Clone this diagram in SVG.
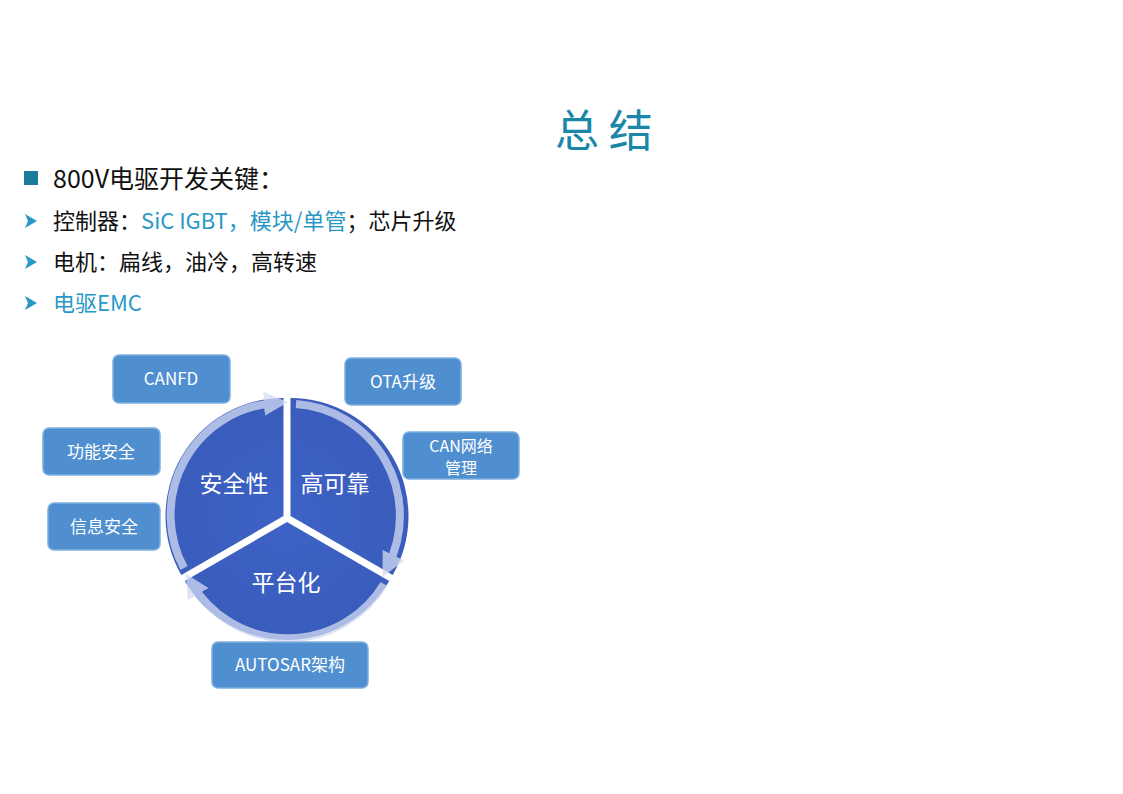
<svg xmlns="http://www.w3.org/2000/svg" width="1123" height="794" viewBox="0 0 1123 794">
<style>
text{font-family:"Noto Sans CJK SC","Noto Sans",sans-serif}
.t{font-size:22px;fill:#111}
.b{fill:#2a98c6}
.box rect{fill:#4f8fd0;stroke:#7fb0e0;stroke-width:1.5}
.box text{fill:#fff;font-size:17px;text-anchor:middle}
.sec{fill:url(#g)}
.rim{fill:none;stroke:#d4dcf2;stroke-width:8;opacity:.75}
.lbl{fill:#fff;font-size:23px;text-anchor:middle}
</style>
<defs>
<radialGradient id="g" cx="287" cy="518" r="120" gradientUnits="userSpaceOnUse">
<stop offset="0" stop-color="#3d63c6"/><stop offset="1" stop-color="#3a5cbc"/>
</radialGradient>
<marker id="ah" viewBox="0 0 10 10" refX="5" refY="5" markerWidth="3" markerHeight="3" orient="auto"><path d="M0,0L10,5L0,10z" fill="#d4dcf2"/></marker>
</defs>
<rect width="1123" height="794" fill="#fff"/>
<g id="header">
<text x="555" y="147" font-size="44" fill="#1a86a8">总 结</text>
<rect x="24" y="171" width="14" height="14" fill="#1a7c9a"/>
<text x="53" y="188" font-size="25" fill="#111">800V电驱开发关键：</text>
<path d="M25,214 L37,221 L25,228 L28,221z" fill="#2a98c6"/>
<text class="t" x="53" y="229">控制器：<tspan class="b">SiC IGBT，模块/单管</tspan>；芯片升级</text>
<path d="M25,255 L37,262 L25,269 L28,262z" fill="#2a98c6"/>
<text class="t" x="53" y="270">电机：扁线，油冷，高转速</text>
<path d="M25,296 L37,303 L25,310 L28,303z" fill="#2a98c6"/>
<text class="t b" x="53" y="311">电驱EMC</text>
</g>
<g id="pie">
<path class="sec" d="M283.5,516 L181.3,575 A118,118 0 0,1 283.5,398 Z"/>
<path class="sec" d="M290.5,516 L290.5,398 A118,118 0 0,1 392.7,575 Z"/>
<path class="sec" d="M287,522 L389.2,581 A118,118 0 0,1 184.8,581 Z"/>
</g>
<g id="connectors">
<path class="rim" d="M184,568 A112,112 0 0,1 276,403" marker-end="url(#ah)"/>
<path class="rim" d="M296,404 A112,112 0 0,1 388,566" marker-end="url(#ah)" opacity=".35"/>
<path class="rim" d="M384,584 A112,112 0 0,1 192,584" marker-end="url(#ah)"/>
</g>
<g id="labels">
<text class="lbl" x="234" y="492">安全性</text>
<text class="lbl" x="335" y="492">高可靠</text>
<text class="lbl" x="286" y="591">平台化</text>
</g>
<g id="n-canfd" class="box"><rect x="113" y="355" width="117" height="48" rx="6"/><text x="171" y="385">CANFD</text></g>
<g id="n-ota" class="box"><rect x="345" y="358" width="116" height="47" rx="6"/><text x="403" y="388">OTA升级</text></g>
<g id="n-can" class="box"><rect x="403" y="432" width="116" height="47" rx="6"/><text x="461" y="452" font-size="16" style="font-size:16px">CAN网络</text><text x="461" y="474" style="font-size:16px">管理</text></g>
<g id="n-func" class="box"><rect x="43" y="428" width="117" height="47" rx="6"/><text x="101" y="458">功能安全</text></g>
<g id="n-info" class="box"><rect x="48" y="503" width="112" height="47" rx="6"/><text x="104" y="533">信息安全</text></g>
<g id="n-autosar" class="box"><rect x="212" y="642" width="156" height="46" rx="6"/><text x="290" y="671">AUTOSAR架构</text></g>
</svg>
